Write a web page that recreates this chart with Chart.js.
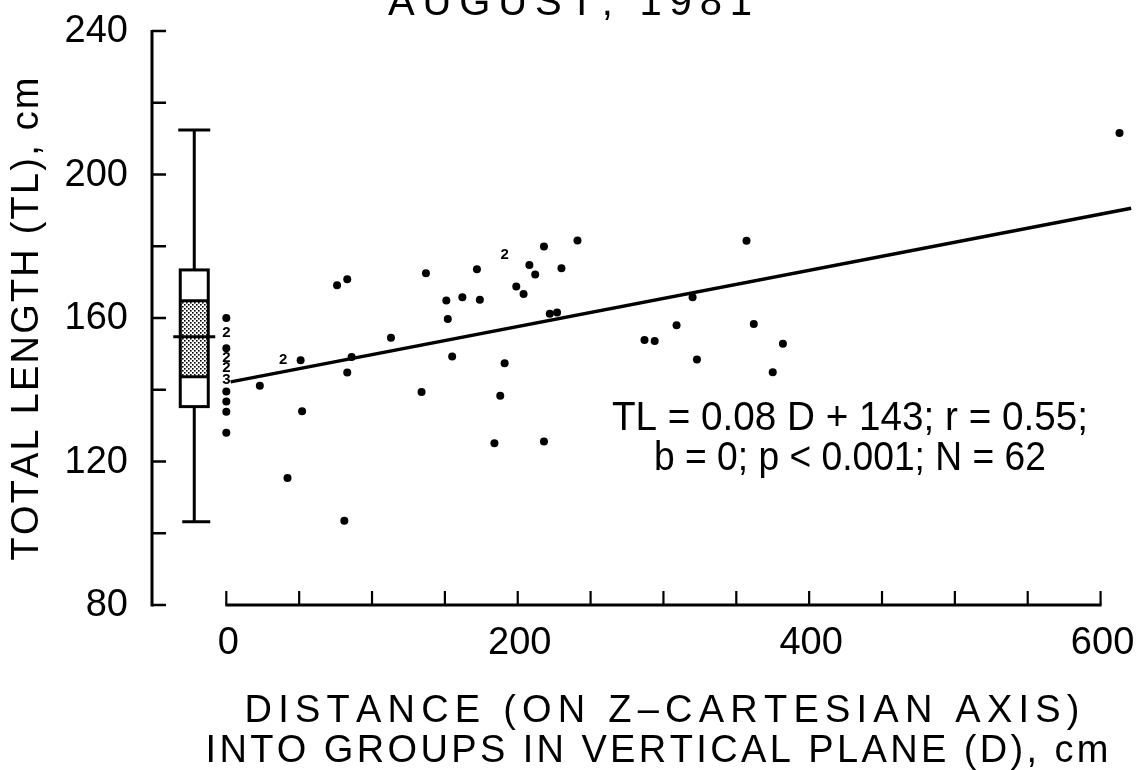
<!DOCTYPE html>
<html>
<head>
<meta charset="utf-8">
<script src="https://cdn.jsdelivr.net/npm/chart.js@4.4.1/dist/chart.umd.min.js"></script>
<style>
  html, body { margin: 0; padding: 0; background: #fff; }
  #wrap { width: 1143px; height: 770px; }
</style>
</head>
<body>
<div id="wrap"><canvas id="c" width="1143" height="770"></canvas></div>
<script>
// ---------- data ----------
const chartTitle = "AUGUST, 1981";
const xTitleLines = ["DISTANCE (ON Z\u2013CARTESIAN AXIS)", "INTO GROUPS IN VERTICAL PLANE (D), cm"];
const yTitle = "TOTAL LENGTH (TL), cm";
const annotationLines = ["TL = 0.08 D + 143; r = 0.55;", "b = 0; p < 0.001; N = 62"];
const annotationPos = [{ x: 428, y: 131.8 }, { x: 428, y: 120.8 }];

const xTickLabels = [0, 200, 400, 600];
const yTickLabels = [80, 120, 160, 200, 240];

// single-fish dots: D (cm), TL (cm)
const dotD = [0, 0, 0, 0, 0, 0,
  23, 51, 52, 42, 76, 83, 86, 83, 81, 113, 137, 134, 151, 152, 155, 162, 172, 174,
  191, 188, 184, 199, 204, 208, 212, 218, 230, 241, 222, 227, 218,
  357, 320, 309, 287, 294, 323, 362, 382, 375, 613];
const dotTL = [160.0, 151.6, 139.5, 136.7, 133.9, 128.0,
  141.1, 148.2, 134.0, 115.4, 169.1, 170.8, 149.1, 144.8, 103.5, 154.5, 172.5, 139.4, 164.9, 159.7, 149.3, 165.8, 173.6, 165.1,
  147.4, 138.3, 125.1, 168.8, 166.7, 174.8, 172.1, 179.9, 173.9, 181.6, 161.2, 161.5, 125.6,
  181.5, 165.8, 158.0, 153.9, 153.6, 148.4, 158.3, 152.8, 144.9, 211.6];

// multiple fish at one spot, drawn as the count numeral
const multiD = [0, 0, 0, 0, 39, 191];
const multiTL = [155.8, 148.8, 146.0, 142.8, 148.2, 177.6];
const multiN = ["2", "2", "2", "3", "2", "2"];

// fitted regression line end points
const lineD = [3, 621];
const lineTL = [142.2, 190.6];

// box plot of TL (drawn left of the D axis)
const boxCenterD = -22;
const boxStats = { min: 103.2, q1: 135.3, ciLow: 143.6, median: 154.8, ciHigh: 164.8, q3: 173.4, max: 212.4 };

// ---------- helpers ----------
const FONT = "'Liberation Sans', Arial, sans-serif";

// draw text centred at (cx, cy) so that it spans targetW px
function drawFit(ctx, text, cx, cy, targetW, fontPx) {
  ctx.save();
  ctx.font = fontPx + "px " + FONT;
  ctx.textBaseline = "middle";
  ctx.textAlign = "left";
  const chars = Array.from(text);
  const widths = chars.map(c => ctx.measureText(c).width);
  const natural = widths.reduce((a, b) => a + b, 0);
  ctx.translate(cx - targetW / 2, cy);
  if (natural > targetW) {
    ctx.scale(targetW / natural, 1);
    ctx.fillText(text, 0, 0);
  } else {
    const extra = chars.length > 1 ? (targetW - natural) / (chars.length - 1) : 0;
    let x = 0;
    chars.forEach((c, i) => { ctx.fillText(c, x, 0); x += widths[i] + extra; });
  }
  ctx.restore();
}

function stipple(ctx) {
  const p = document.createElement("canvas");
  p.width = 4; p.height = 4;
  const g = p.getContext("2d");
  g.fillStyle = "#fff"; g.fillRect(0, 0, 4, 4);
  g.fillStyle = "#000";
  g.fillRect(0, 0, 1.6, 1.6);
  g.fillRect(2, 2, 1.6, 1.6);
  return ctx.createPattern(p, "repeat");
}

const decor = {
  id: "decor",
  beforeDraw(chart) {
    const ctx = chart.ctx;
    ctx.save();
    ctx.fillStyle = "#fff";
    ctx.fillRect(0, 0, chart.width, chart.height);
    ctx.restore();
  },
  afterDatasetsDraw(chart) {
    const ctx = chart.ctx;
    const xs = chart.scales.x, ys = chart.scales.y;
    const X = v => xs.getPixelForValue(v), Y = v => ys.getPixelForValue(v);
    ctx.save();
    ctx.strokeStyle = "#000";
    ctx.fillStyle = "#000";
    ctx.lineCap = "butt";

    // y axis
    const ax = chart.chartArea.left;
    ctx.lineWidth = 3;
    ctx.beginPath();
    ctx.moveTo(ax, Y(240) - 1); ctx.lineTo(ax, Y(80) + 1.5);
    ctx.stroke();
    ctx.lineWidth = 2.5;
    for (let v = 80; v <= 240; v += 20) {
      ctx.beginPath(); ctx.moveTo(ax, Y(v)); ctx.lineTo(ax + 14, Y(v)); ctx.stroke();
    }
    // x axis
    const ay = Y(80);
    ctx.lineWidth = 3;
    ctx.beginPath(); ctx.moveTo(X(0) - 1, ay); ctx.lineTo(X(600) + 1, ay); ctx.stroke();
    ctx.lineWidth = 2.2;
    for (let v = 0; v <= 600; v += 50) {
      ctx.beginPath(); ctx.moveTo(X(v), ay); ctx.lineTo(X(v), ay - 14); ctx.stroke();
    }

    // tick labels
    ctx.font = "38px " + FONT;
    ctx.textBaseline = "middle";
    ctx.textAlign = "right";
    yTickLabels.forEach(v => ctx.fillText(String(v), 128, Y(v) + 1));
    ctx.textAlign = "center";
    xTickLabels.forEach(v => ctx.fillText(String(v), X(v) + 2, 644));

    // box plot
    const bc = X(boxCenterD);
    const bl = bc - 14, br = bc + 14;
    ctx.lineWidth = 3;
    ctx.beginPath();
    ctx.moveTo(bc, Y(boxStats.max)); ctx.lineTo(bc, Y(boxStats.q3));
    ctx.moveTo(bc, Y(boxStats.q1)); ctx.lineTo(bc, Y(boxStats.min));
    ctx.moveTo(bc - 16, Y(boxStats.max)); ctx.lineTo(bc + 16, Y(boxStats.max));
    ctx.moveTo(bc - 12, Y(boxStats.min)); ctx.lineTo(bc + 16, Y(boxStats.min));
    ctx.stroke();
    ctx.fillStyle = stipple(ctx);
    ctx.fillRect(bl, Y(boxStats.ciHigh), br - bl, Y(boxStats.ciLow) - Y(boxStats.ciHigh));
    ctx.fillStyle = "#000";
    ctx.strokeRect(bl, Y(boxStats.q3), br - bl, Y(boxStats.q1) - Y(boxStats.q3));
    ctx.beginPath();
    ctx.moveTo(bl, Y(boxStats.ciHigh)); ctx.lineTo(br, Y(boxStats.ciHigh));
    ctx.moveTo(bl, Y(boxStats.ciLow)); ctx.lineTo(br, Y(boxStats.ciLow));
    ctx.moveTo(bc - 21, Y(boxStats.median)); ctx.lineTo(bc + 21, Y(boxStats.median));
    ctx.stroke();

    // numerals for multiple fish
    const meta = chart.getDatasetMeta(2);
    ctx.font = "bold 15px " + FONT;
    ctx.textAlign = "center";
    ctx.textBaseline = "middle";
    meta.data.forEach((el, i) => { ctx.fillText(multiN[i], el.x, el.y); });
    ctx.restore();

    // texts
    drawFit(ctx, chartTitle, 570, 4, 364, 40);
    drawFit(ctx, xTitleLines[0], 662, 712, 835, 38);
    drawFit(ctx, xTitleLines[1], 657, 752, 903, 38);
    annotationLines.forEach((t, i) => {
      drawFit(ctx, t, X(annotationPos[i].x), Y(annotationPos[i].y), i === 0 ? 476 : 392, 40);
    });
    ctx.save();
    ctx.translate(28, 319);
    ctx.rotate(-Math.PI / 2);
    drawFit(ctx, yTitle, 0, 0, 483, 38);
    ctx.restore();
  }
};

const toPts = (xs, ys) => xs.map((x, i) => ({ x: x, y: ys[i] }));

new Chart(document.getElementById("c"), {
  type: "scatter",
  data: {
    datasets: [
      { label: "fit", data: toPts(lineD, lineTL), showLine: true, borderColor: "#000", borderWidth: 3.4, pointRadius: 0, fill: false },
      { label: "fish", data: toPts(dotD, dotTL), pointRadius: 4, pointBackgroundColor: "#000", pointBorderWidth: 0, borderColor: "#000" },
      { label: "multi", data: toPts(multiD, multiTL), pointRadius: 0 }
    ]
  },
  options: {
    responsive: false,
    animation: false,
    devicePixelRatio: 1,
    layout: { padding: { left: 0, top: 31, right: 6, bottom: 0 } },
    plugins: { legend: { display: false }, tooltip: { enabled: false }, title: { display: false } },
    scales: {
      x: {
        type: "linear", min: -51, max: 625,
        grid: { display: false, drawTicks: false }, border: { display: false },
        afterBuildTicks: s => { s.ticks = xTickLabels.map(v => ({ value: v })); },
        afterFit: s => { s.height = 165; },
        ticks: { display: false }
      },
      y: {
        type: "linear", min: 80, max: 240,
        grid: { display: false, drawTicks: false }, border: { display: false },
        afterBuildTicks: s => { s.ticks = yTickLabels.map(v => ({ value: v })); },
        afterFit: s => { s.width = 152; },
        ticks: { display: false }
      }
    }
  },
  plugins: [decor]
});
</script>
</body>
</html>
